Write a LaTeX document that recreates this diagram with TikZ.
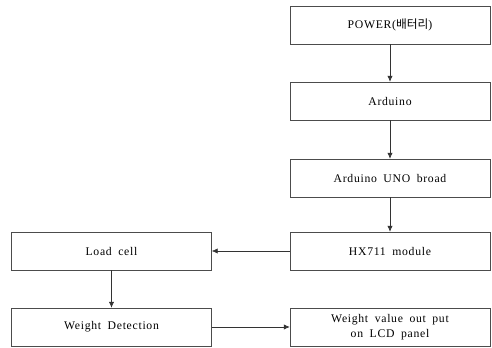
\documentclass[tikz,border=0pt]{standalone}
\usepackage{fontspec}
\usetikzlibrary{arrows.meta}
\setmainfont{Liberation Serif}[LetterSpace=6,WordSpace=1.8]
\newfontfamily\kor{Noto Sans CJK KR}
\tikzset{
  block/.style={draw=black!70,line width=0.5pt,minimum width=6cm,minimum height=1.14cm,
    inner sep=1pt,font=\fontsize{10}{13}\selectfont,align=center},
  flow/.style={draw=black!80,line width=0.5pt,-{Latex[length=5pt,width=4.5pt]}}
}
\begin{document}
\begin{tikzpicture}[x=0.03cm,y=-0.03cm]
\useasboundingbox (0,0) rectangle (492,348);
% right column
\node[block] (power) at (390,25) {POWER({\kor 배터리})};
\node[block] (arduino) at (390,101) {Arduino};
\node[block] (uno) at (390,178) {Arduino UNO broad};
\node[block] (hx) at (390,251) {HX711 module};
\node[block] (lcd) at (390,327) {Weight value out put\\on LCD panel};
% left column
\node[block] (loadcell) at (111.5,251) {Load cell};
\node[block] (detect) at (111.5,327) {Weight Detection};
% connectors
\draw[flow] (power) -- (arduino);
\draw[flow] (arduino) -- (uno);
\draw[flow] (uno) -- (hx);
\draw[flow] (hx) -- (loadcell);
\draw[flow] (loadcell) -- (detect);
\draw[flow] (detect) -- (lcd);
\end{tikzpicture}
\end{document}
